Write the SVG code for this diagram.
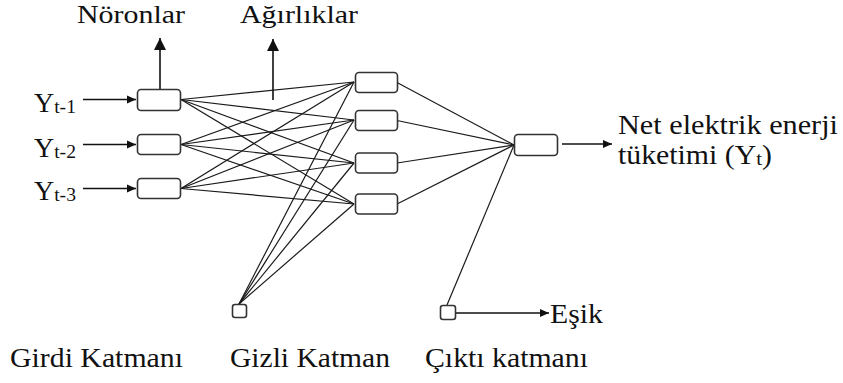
<svg xmlns="http://www.w3.org/2000/svg" width="843" height="383" viewBox="0 0 843 383">
<style>
.node{fill:#fff;stroke:#333;stroke-width:1.6}
.c{stroke:#1a1a1a;stroke-width:1.2;fill:none}
.a{stroke:#111;stroke-width:1.6;fill:none}
.lbl{font-family:'Liberation Serif','Times New Roman',serif;font-size:27px;fill:#111}
</style>
<defs>
<marker id="ah" markerWidth="10" markerHeight="10" refX="9" refY="5" orient="auto" markerUnits="userSpaceOnUse">
<path d="M0,1 L9,5 L0,9 Z" fill="#111"/>
</marker>
<marker id="ahu" markerWidth="12" markerHeight="14" refX="12" refY="6" orient="auto" markerUnits="userSpaceOnUse">
<path d="M0,0 L12,6 L0,12 Z" fill="#111"/>
</marker>
</defs>
<rect width="843" height="383" fill="#fff"/>
<g id="connectors">
<line class="c" x1="181" y1="99.5" x2="354" y2="82"/>
<line class="c" x1="181" y1="99.5" x2="354" y2="120"/>
<line class="c" x1="181" y1="99.5" x2="354" y2="163"/>
<line class="c" x1="181" y1="99.5" x2="354" y2="204"/>
<line class="c" x1="181" y1="144.5" x2="354" y2="82"/>
<line class="c" x1="181" y1="144.5" x2="354" y2="120"/>
<line class="c" x1="181" y1="144.5" x2="354" y2="163"/>
<line class="c" x1="181" y1="144.5" x2="354" y2="204"/>
<line class="c" x1="181" y1="188.5" x2="354" y2="82"/>
<line class="c" x1="181" y1="188.5" x2="354" y2="120"/>
<line class="c" x1="181" y1="188.5" x2="354" y2="163"/>
<line class="c" x1="181" y1="188.5" x2="354" y2="204"/>
<line class="c" x1="239" y1="304" x2="354" y2="82"/>
<line class="c" x1="239" y1="304" x2="354" y2="120"/>
<line class="c" x1="239" y1="304" x2="354" y2="163"/>
<line class="c" x1="239" y1="304" x2="354" y2="204"/>
<line class="c" x1="397" y1="82.5" x2="514" y2="145"/>
<line class="c" x1="397" y1="120.5" x2="514" y2="145"/>
<line class="c" x1="397" y1="163" x2="514" y2="145"/>
<line class="c" x1="397" y1="204" x2="514" y2="145"/>
<line class="c" x1="447" y1="305" x2="514" y2="145"/>
<line class="a" x1="83" y1="99.5" x2="136" y2="99.5" marker-end="url(#ah)"/>
<line class="a" x1="83" y1="144.5" x2="136" y2="144.5" marker-end="url(#ah)"/>
<line class="a" x1="83" y1="188.5" x2="136" y2="188.5" marker-end="url(#ah)"/>
<line class="a" x1="562" y1="144" x2="612" y2="144" marker-end="url(#ah)"/>
<line class="a" x1="456" y1="313" x2="549" y2="313" marker-end="url(#ah)"/>
<line class="a" x1="160" y1="98" x2="160" y2="38" marker-end="url(#ahu)"/>
<line class="a" x1="273" y1="100" x2="273" y2="39" marker-end="url(#ahu)"/>
</g>
<g id="input1"><rect class="node" x="137.5" y="89.5" width="43" height="21" rx="3.5"/></g>
<g id="input2"><rect class="node" x="137.5" y="134.5" width="43" height="20" rx="3.5"/></g>
<g id="input3"><rect class="node" x="137.5" y="178.5" width="43" height="20" rx="3.5"/></g>
<g id="hidden1"><rect class="node" x="355.5" y="72.5" width="42" height="20" rx="3.5"/></g>
<g id="hidden2"><rect class="node" x="355.5" y="110.5" width="42" height="20" rx="3.5"/></g>
<g id="hidden3"><rect class="node" x="355.5" y="153" width="42" height="20" rx="3.5"/></g>
<g id="hidden4"><rect class="node" x="355.5" y="194" width="42" height="20" rx="3.5"/></g>
<g id="output"><rect class="node" x="514.5" y="134.5" width="43" height="21" rx="3.5"/></g>
<g id="bias-hidden"><rect class="node" x="232.5" y="304.5" width="14" height="13" rx="2.5"/></g>
<g id="bias-output"><rect class="node" x="440.5" y="305.5" width="15" height="14" rx="2.5"/></g>
<g id="labels" class="lbl" font-family="'Liberation Serif', 'Times New Roman', serif" font-size="27">
<text x="77" y="23" font-size="25" textLength="108" lengthAdjust="spacingAndGlyphs">Nöronlar</text>
<text x="240" y="23" font-size="25" textLength="118" lengthAdjust="spacingAndGlyphs">Ağırlıklar</text>
<text x="34" y="111.5" textLength="42" lengthAdjust="spacingAndGlyphs">Y<tspan font-size="19" dy="1">t-1</tspan></text>
<text x="34" y="156.5" textLength="42" lengthAdjust="spacingAndGlyphs">Y<tspan font-size="19" dy="1">t-2</tspan></text>
<text x="34" y="200" textLength="42" lengthAdjust="spacingAndGlyphs">Y<tspan font-size="19" dy="1">t-3</tspan></text>
<text x="618" y="134" textLength="220" lengthAdjust="spacingAndGlyphs">Net elektrik enerji</text>
<text x="618" y="164" textLength="154" lengthAdjust="spacingAndGlyphs">tüketimi (Y<tspan font-size="19" dy="1">t</tspan><tspan dy="-1">)</tspan></text>
<text x="550" y="323" textLength="53" lengthAdjust="spacingAndGlyphs">Eşik</text>
<text x="10" y="367" textLength="173" lengthAdjust="spacingAndGlyphs">Girdi Katmanı</text>
<text x="230" y="367" textLength="160" lengthAdjust="spacingAndGlyphs">Gizli Katman</text>
<text x="425" y="367" textLength="163" lengthAdjust="spacingAndGlyphs">Çıktı katmanı</text>
</g>
</svg>
